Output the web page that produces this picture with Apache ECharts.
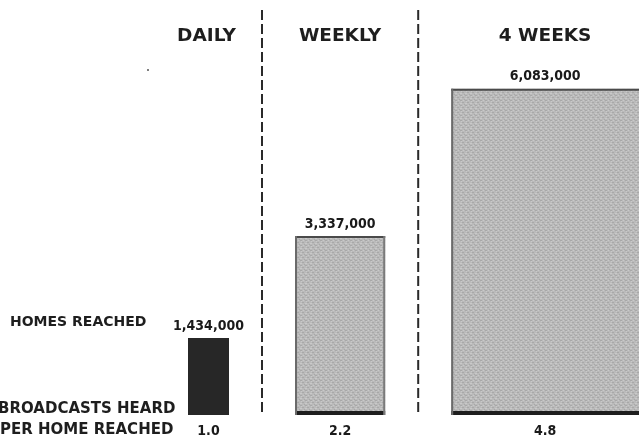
<!DOCTYPE html>
<html><head><meta charset="utf-8">
<script src="https://cdn.jsdelivr.net/npm/echarts@6/dist/echarts.min.js"></script>
<style>html,body{margin:0;padding:0;background:#fff}#c{width:639px;height:438px}</style>
</head><body><div id="c"></div>
<script>
// ---- data ----
const periods = ['DAILY', 'WEEKLY', '4 WEEKS'];
const homesReached = [1434000, 3337000, 6083000];
const broadcastsPerHome = [1.0, 2.2, 4.8];
const homesLabels = ['1,434,000', '3,337,000', '6,083,000'];
const broadcastsLabels = ['1.0', '2.2', '4.8'];
const rowLabels = ['HOMES REACHED', 'BROADCASTS HEARD', 'PER HOME REACHED'];

// bar widths proportional to broadcasts per home; starts are cumulative
const seriesData = [];
let cum = 0;
for (let i = 0; i < periods.length; i++) {
  seriesData.push([cum, broadcastsPerHome[i], homesReached[i], i]);
  cum += broadcastsPerHome[i];
}

// subtle halftone texture
const pat = document.createElement('canvas');
pat.width = 5; pat.height = 5;
(function () {
  const g = pat.getContext('2d');
  g.fillStyle = '#bababa'; g.fillRect(0, 0, 5, 5);
  g.fillStyle = '#a8a8a8'; g.fillRect(0, 0, 2, 1); g.fillRect(2, 2, 2, 1); g.fillRect(4, 4, 1, 1);
  g.fillStyle = '#c9c9c9'; g.fillRect(3, 0, 1, 1); g.fillRect(0, 3, 2, 1); g.fillRect(1, 1, 1, 1);
})();

const GAP = 66;
const numFont = 'bold 14px "DejaVu Sans Condensed", "DejaVu Sans", sans-serif';

function renderItem(params, api) {
  const start = api.value(0), w = api.value(1), h = api.value(2), i = api.value(3);
  const cs = params.coordSys;
  const p0 = api.coord([start, 0]);
  const p1 = api.coord([start + w, h]);
  const x0 = p0[0] + GAP * i, x1 = p1[0] + GAP * i;
  const yb = p0[1], yt = p1[1];
  const right = cs.x + cs.width;
  const cx = (x0 + Math.min(x1, right)) / 2;
  const children = [];
  if (i === 0) {
    children.push({ type: 'rect', shape: { x: x0, y: yt, width: x1 - x0, height: yb - yt }, style: { fill: '#272727' } });
  } else {
    children.push({ type: 'rect', shape: { x: x0, y: yt, width: x1 - x0, height: yb - yt }, style: { fill: { image: pat, repeat: 'repeat' } } });
    children.push({ type: 'rect', shape: { x: x0, y: yt, width: x1 - x0, height: 2 }, style: { fill: '#4a4a4a' } });
    children.push({ type: 'rect', shape: { x: x0, y: yb - 4, width: x1 - x0, height: 4 }, style: { fill: '#1e1e1e' } });
    children.push({ type: 'rect', shape: { x: x0, y: yt, width: 2, height: yb - yt }, style: { fill: '#6a6a6a' } });
    children.push({ type: 'rect', shape: { x: x1 - 2, y: yt, width: 2, height: yb - yt }, style: { fill: '#7a7a7a' } });
    const dx = x0 - GAP / 2;
    children.push({ type: 'line', shape: { x1: dx, y1: 10, x2: dx, y2: yb + 1 }, style: { stroke: '#2a2a2a', lineWidth: 2, lineDash: [10, 4] } });
  }
  children.push({ type: 'text', style: { text: homesLabels[i], x: cx, y: yt - 5, align: 'center', verticalAlign: 'bottom', font: numFont, fill: '#1a1a1a' } });
  children.push({ type: 'text', style: { text: broadcastsLabels[i], x: cx, y: 431, align: 'center', verticalAlign: 'middle', font: numFont, fill: '#1a1a1a' } });
  children.push({ type: 'text', style: { text: periods[i], x: cx - (i === 0 ? 2 : 0), y: 36, align: 'center', verticalAlign: 'middle', font: 'bold 18.5px "DejaVu Sans", sans-serif', fill: '#1e1e1e' } });
  return { type: 'group', children: children };
}

const chart = echarts.init(document.getElementById('c'), null, { renderer: 'canvas' });
chart.setOption({
  backgroundColor: '#ffffff',
  animation: false,
  grid: { left: 188, right: 0, top: 0, bottom: 23 },
  xAxis: { type: 'value', min: 0, max: 11, show: false },
  yAxis: { type: 'value', min: 0, max: 7740000, show: false },
  series: [{ type: 'custom', renderItem: renderItem, data: seriesData, clip: false }],
  graphic: [
    { type: 'text', left: 10, top: 315, style: { text: rowLabels[0], font: 'bold 14px "DejaVu Sans", sans-serif', fill: '#1e1e1e' } },
    { type: 'text', left: -2, top: 402, style: { text: rowLabels[1], font: 'bold 15px "DejaVu Sans", sans-serif', fill: '#1e1e1e' } },
    { type: 'text', left: 0, top: 423, style: { text: rowLabels[2], font: 'bold 15px "DejaVu Sans", sans-serif', fill: '#1e1e1e' } },
    { type: 'circle', shape: { cx: 148, cy: 70, r: 1 }, style: { fill: '#555' } }
  ]
});
</script>
</body></html>
